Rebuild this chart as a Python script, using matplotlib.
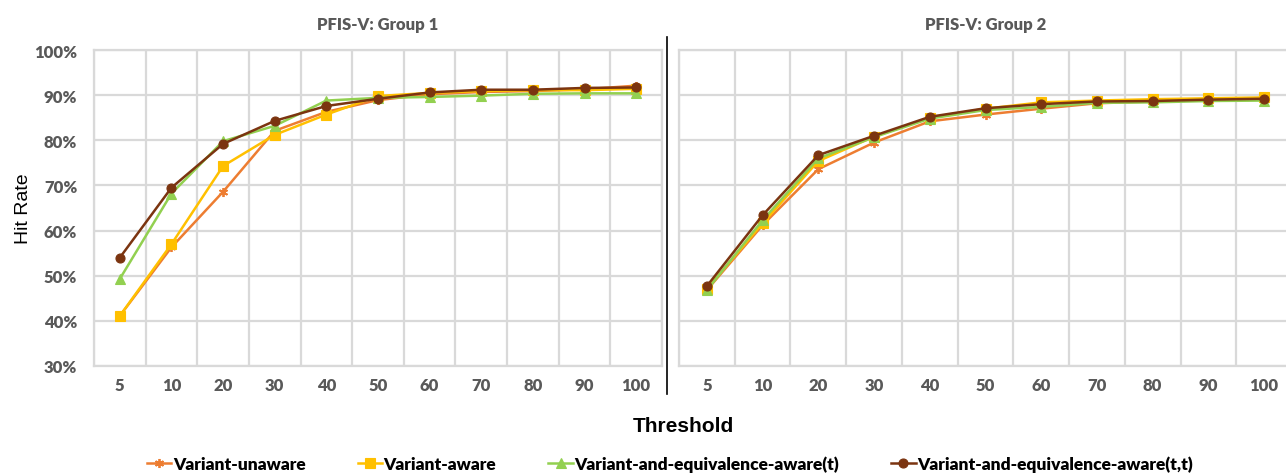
import numpy as np
import matplotlib as mpl
import matplotlib.pyplot as plt
from matplotlib.lines import Line2D
from matplotlib.ticker import PercentFormatter

mpl.rcParams['font.family'] = ['Lato', 'DejaVu Sans']

thresholds = ['5', '10', '20', '30', '40', '50', '60', '70', '80', '90', '100']
series_names = ['Variant-unaware', 'Variant-aware',
                'Variant-and-equivalence-aware(t)', 'Variant-and-equivalence-aware(t,t)']

# hit rate (%) per threshold, group 1
g1_unaware = [41.1, 56.3, 68.6, 82.1, 86.3, 88.9, 90.2, 90.7, 90.9, 91.3, 92.1]
g1_aware = [41.1, 57.0, 74.3, 81.2, 85.7, 89.8, 90.5, 90.9, 91.1, 91.1, 91.4]
g1_equiv_t = [49.3, 68.2, 79.8, 83.2, 88.8, 89.4, 89.6, 89.9, 90.3, 90.4, 90.4]
g1_equiv_tt = [54.0, 69.5, 79.2, 84.3, 87.6, 89.2, 90.6, 91.2, 91.2, 91.6, 91.7]

# group 2
g2_unaware = [46.8, 61.2, 73.6, 79.5, 84.2, 85.7, 87.0, 88.2, 88.6, 88.9, 89.1]
g2_aware = [47.1, 61.6, 75.4, 80.8, 85.0, 87.0, 88.4, 88.8, 89.1, 89.3, 89.5]
g2_equiv_t = [46.8, 62.3, 76.0, 80.7, 84.8, 86.7, 87.4, 88.3, 88.4, 88.7, 88.8]
g2_equiv_tt = [47.7, 63.4, 76.7, 81.0, 85.2, 87.1, 88.0, 88.6, 88.7, 89.0, 89.2]

colors = ['#ED7D31', '#FFC000', '#92D050', '#7B3410']
markers = [(6, 2, 0), 's', '^', 'o']
grid_c = '#D9D9D9'
text_c = '#595959'

fig = plt.figure(figsize=(12.86, 4.77), dpi=100)
ax1 = fig.add_axes([94 / 1286, 1 - 367 / 477, (662 - 94) / 1286, (367 - 51) / 477])
ax2 = fig.add_axes([679 / 1286, 1 - 367 / 477, (1292 - 679) / 1286, (367 - 51) / 477])

x = np.arange(len(thresholds))
groups = [(ax1, [g1_unaware, g1_aware, g1_equiv_t, g1_equiv_tt], 'PFIS-V: Group 1'),
          (ax2, [g2_unaware, g2_aware, g2_equiv_t, g2_equiv_tt], 'PFIS-V: Group 2')]

for ax, data, title in groups:
    for vals, c, m, name in zip(data, colors, markers, series_names):
        ax.plot(x, vals, color=c, marker=m, markersize=6.5, linewidth=1.8,
                markeredgewidth=1.3 if m == (6, 2, 0) else 0.8, label=name)
    ax.set_xlim(-0.5, len(thresholds) - 0.5)
    ax.set_ylim(30, 100)
    ax.set_yticks(np.arange(30, 101, 10))
    ax.set_xticks(x)
    ax.set_xticklabels(thresholds)
    ax.set_xticks(np.arange(-0.5, len(thresholds)), minor=True)
    ax.grid(True, which='minor', axis='x', color=grid_c, linewidth=1.6)
    ax.grid(True, which='major', axis='y', color=grid_c, linewidth=1.6)
    ax.set_axisbelow(True)
    ax.tick_params(which='both', length=0, labelsize=12, colors=text_c)
    ax.tick_params(axis='y', pad=12)
    ax.tick_params(axis='x', pad=8)
    for s in ax.spines.values():
        s.set_color(grid_c)
        s.set_linewidth(1.6)
    ax.set_title(title, fontsize=12, fontweight='heavy', color=text_c, pad=15)

ax1.yaxis.set_major_formatter(PercentFormatter(decimals=0))
ax2.tick_params(axis='y', labelleft=False)
for ax in (ax1, ax2):
    for lab in ax.get_xticklabels() + ax.get_yticklabels():
        lab.set_fontweight('heavy')
ax1.set_ylabel('Hit Rate', fontsize=14, color='black',
               family=['Liberation Sans', 'DejaVu Sans'])
ax1.yaxis.set_label_coords((32 - 94) / 568, 0.5)

fig.text(683 / 1286, 1 - 427 / 477, 'Threshold', ha='center', va='center',
         fontsize=15, fontweight='bold', color='black',
         family=['Liberation Sans', 'DejaVu Sans'])

# divider between the two panels
fig.add_artist(Line2D([667 / 1286, 667 / 1286], [1 - 38 / 477, 1 - 395 / 477],
                      color='black', linewidth=1.2))

handles, labels = ax1.get_legend_handles_labels()
leg = fig.legend(handles, labels, loc='center', bbox_to_anchor=(670 / 1286, 1 - 465 / 477),
                 ncol=4, frameon=False, handlelength=1.4, handletextpad=0.1,
                 columnspacing=3.0, prop={'weight': 'heavy', 'size': 12.5})

fig.savefig('out.png', dpi=100)
